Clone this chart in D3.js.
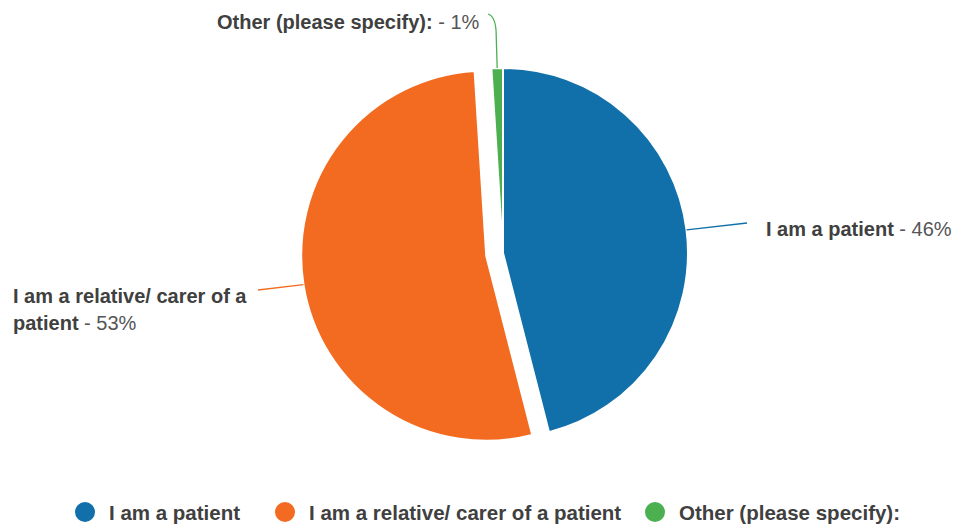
<!DOCTYPE html>
<html>
<head>
<meta charset="utf-8">
<script src="https://cdn.jsdelivr.net/npm/d3@7"></script>
<style>
  html, body { margin: 0; padding: 0; background: #ffffff; }
  svg { display: block; font-family: "Liberation Sans", Arial, sans-serif; }
</style>
</head>
<body>
<svg id="chart" width="956" height="527"></svg>
<script>
// Survey answers: who filled in the questionnaire
const categories = ["I am a patient", "I am a relative/ carer of a patient", "Other (please specify):"];
const shares = [46, 53, 1];
const colors = ["#1170aa", "#f26b21", "#4caf50"];

const svg = d3.select("#chart");
const cx = 503, cy = 253, R = 185;
const explode = [0, 17, 0];

const pie = d3.pie().sort(null).value(d => d).startAngle(0).endAngle(2 * Math.PI);
const arcs = pie(shares);
const arc = d3.arc().innerRadius(0).outerRadius(R);

const g = svg.append("g").attr("transform", `translate(${cx},${cy})`);

// per-slice offset along the bisector
function offset(d, i) {
  const a = (d.startAngle + d.endAngle) / 2;
  return [explode[i] * Math.sin(a), -explode[i] * Math.cos(a)];
}
function edgePoint(d, i) {
  const a = (d.startAngle + d.endAngle) / 2;
  const o = offset(d, i);
  return [o[0] + R * Math.sin(a), o[1] - R * Math.cos(a)];
}

g.selectAll("path.slice")
  .data(arcs)
  .join("path")
  .attr("class", "slice")
  .attr("d", arc)
  .attr("fill", (d, i) => colors[i])
  .attr("stroke", "#ffffff")
  .attr("stroke-width", 2)
  .attr("stroke-linejoin", "round")
  .attr("transform", (d, i) => `translate(${offset(d, i)})`);

// label anchors (relative to pie centre) and leader line ends
const labelLayout = [
  { x: 766 - cx, y: 236 - cy, lineEnd: [747 - cx, 223 - cy], wrap: 1000 },
  { x: 13 - cx, y: 303 - cy, lineEnd: [258 - cx, 290 - cy], wrap: 245 },
  { x: 217 - cx, y: 29 - cy, lineEnd: null, wrap: 1000 }
];

// leader lines
arcs.forEach((d, i) => {
  const p = edgePoint(d, i);
  const L = labelLayout[i];
  let path;
  if (L.lineEnd) {
    path = d3.line()([p, L.lineEnd]);
  } else {
    const p2 = d3.path();
    p2.moveTo(p[0], p[1]);
    p2.lineTo(p[0] - 1, 35 - cy);
    p2.quadraticCurveTo(p[0] - 1, 17 - cy, p[0] - 9, 14 - cy);
    path = p2.toString();
  }
  g.append("path")
    .attr("d", path)
    .attr("fill", "none")
    .attr("stroke", colors[i])
    .attr("stroke-width", 1.3);
});

// slice labels: bold category + normal percentage, wrapped to a max width
const fs = 20;
arcs.forEach((d, i) => {
  const L = labelLayout[i];
  const words = categories[i].split(" ");
  const pct = " - " + shares[i] + "%";
  const t = g.append("text")
    .attr("x", L.x).attr("y", L.y)
    .attr("font-size", fs)
    .attr("fill", "#404040");
  const meas = svg.append("text").attr("font-size", fs).attr("font-weight", "bold").attr("x", -1000);
  const lines = [];
  let cur = [];
  words.forEach(w => {
    const test = cur.concat([w]).join(" ");
    meas.text(test);
    if (meas.node().getComputedTextLength() > L.wrap && cur.length) {
      lines.push(cur.join(" "));
      cur = [w];
    } else cur.push(w);
  });
  lines.push(cur.join(" "));
  meas.remove();
  lines.forEach((ln, k) => {
    t.append("tspan")
      .attr("x", L.x)
      .attr("dy", k === 0 ? 0 : 27)
      .attr("font-weight", "bold")
      .text(ln);
    if (k === lines.length - 1) {
      t.append("tspan").attr("font-weight", "normal").attr("fill", "#555").text(pct);
    }
  });
});

// legend
const legendX = [85, 285, 655];
const legend = svg.append("g");
categories.forEach((c, i) => {
  legend.append("circle")
    .attr("cx", legendX[i]).attr("cy", 512)
    .attr("r", 10)
    .attr("fill", colors[i]);
  legend.append("text")
    .attr("x", legendX[i] + 24).attr("y", 520)
    .attr("font-size", 20.5)
    .attr("font-weight", "bold")
    .attr("fill", "#404040")
    .text(c);
});
</script>
</body>
</html>
